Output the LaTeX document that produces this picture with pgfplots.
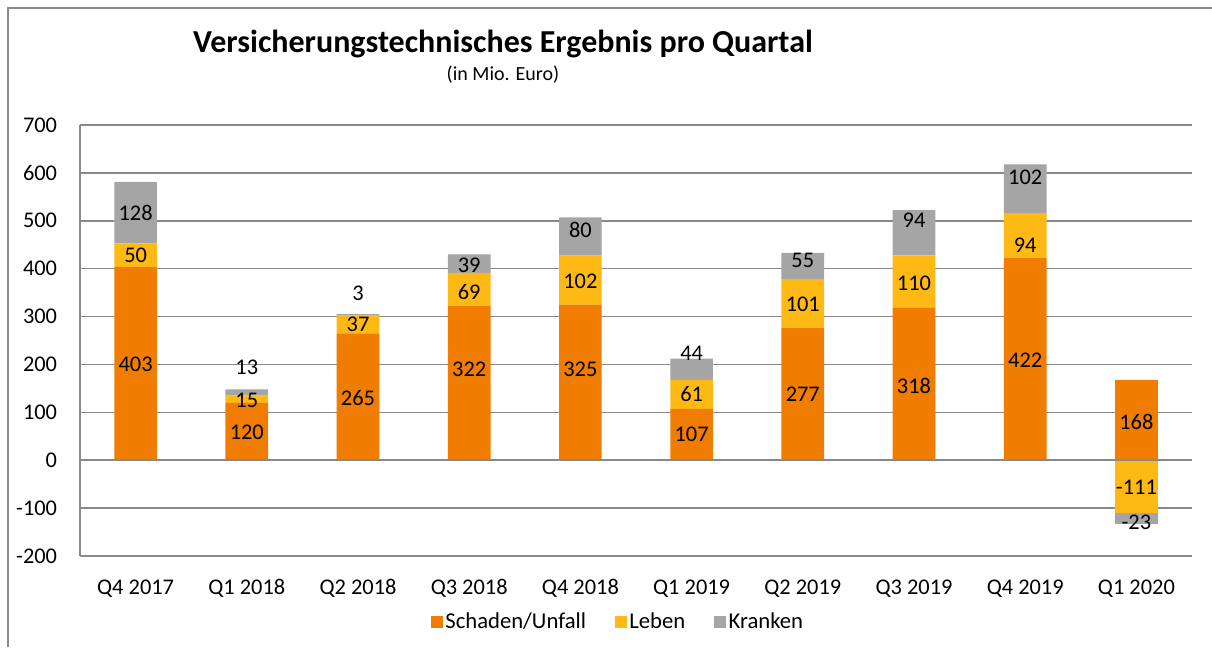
\documentclass[border=0pt]{standalone}
\usepackage{fontspec}
\setmainfont{Carlito}
\usepackage{pgfplots}
\pgfplotsset{compat=1.18}
\usepackage{pgfplotstable}
\definecolor{cS}{RGB}{240,125,0}
\definecolor{cL}{RGB}{255,185,20}
\definecolor{cK}{RGB}{165,165,165}
\definecolor{cG}{RGB}{137,137,137}

% positive parts
\pgfplotstableread{
x S L K
0 403 50 128
1 120 15 13
2 265 37 3
3 322 69 39
4 325 102 80
5 107 61 44
6 277 101 55
7 318 110 94
8 422 94 102
9 168 0 0
}\bars

% negative parts (stacked downward from 0)
\pgfplotstableread{
x L K
9 -111 -23
}\negbars

\pgfplotstableread{
x y lab
0 200 403
0 428 50
0 517 128
1 58 120
1 124 15
1 194 13
2 130 265
2 283 37
2 349 3
3 190 322
3 352 69
3 408 39
4 190 325
4 373 102
4 480 80
5 53.5 107
5 137.5 61
5 223 44
6 138.5 277
6 325 101
6 417 55
7 155 318
7 369 110
7 501 94
8 209 422
8 449 94
8 591 102
9 80 168
9 -57 -111
9 -129 -23
}\labels

\pgfplotsset{
  base/.style={
    at={(60pt,68.25pt)}, anchor=south west,
    width=834pt, height=323.25pt, scale only axis,
    xmin=-0.5, xmax=9.5, ymin=-200, ymax=700,
  },
}

\begin{document}
\begin{tikzpicture}[x=0.75pt,y=0.75pt]
\path[use as bounding box] (0,0) rectangle (1212,647);
\draw[cG, line width=1.2pt] (8,0) -- (8,639) -- (1212,639);

\node[font=\fontsize{24}{27}\selectfont\bfseries] at (503,603) {Versicherungstechnisches Ergebnis pro Quartal};
\node[font=\fontsize{15}{17}\selectfont] at (503,572) {(in Mio. Euro)};

\begin{axis}[base,
  ybar stacked, bar width=32pt,
  axis lines*=left,
  axis line style={cG, line width=1.2pt},
  ymajorgrids, grid style={cG, line width=1.2pt},
  major tick length=0pt,
  ytick={-200,-100,...,700},
  xtick={0,...,9},
  xticklabels={Q4 2017,Q1 2018,Q2 2018,Q3 2018,Q4 2018,Q1 2019,Q2 2019,Q3 2019,Q4 2019,Q1 2020},
  /pgf/number format/assume math mode=true,
  tick label style={font=\fontsize{16.8}{18}\selectfont, text=black},
  xticklabel style={anchor=center, inner sep=0pt, yshift=-24.5pt},
  yticklabel style={anchor=east, inner sep=0pt, xshift=-17pt},
  legend style={at={(0.484,-0.153)}, anchor=center, draw=none, fill=none,
    legend columns=3, font=\fontsize{17}{18}\selectfont,
    /tikz/every even column/.append style={column sep=19.5pt}},
  legend image code/.code={\fill[#1] (0pt,-4.5pt) rectangle (9pt,4.5pt);},
]
\addplot[fill=cS, draw=none] table[x=x, y=S] {\bars};
\addplot[fill=cL, draw=none] table[x=x, y=L] {\bars};
\addplot[fill=cK, draw=none] table[x=x, y=K] {\bars};
\legend{Schaden/Unfall, Leben, Kranken}
\end{axis}

\begin{axis}[base, hide axis, ybar stacked, bar width=32pt]
\addplot[fill=cL, draw=none] table[x=x, y=L] {\negbars};
\addplot[fill=cK, draw=none] table[x=x, y=K] {\negbars};
\end{axis}

\begin{axis}[base, hide axis, clip=false]
\addplot[cG, line width=1.2pt] coordinates {(-0.5,0) (9.5,0)};
\addplot[draw=none, mark=none, nodes near coords, point meta=explicit symbolic,
  every node near coord/.style={anchor=center, text=black, font=\fontsize{16.8}{18}\selectfont}]
  table[x=x, y=y, meta=lab] {\labels};
\end{axis}
\end{tikzpicture}
\end{document}
